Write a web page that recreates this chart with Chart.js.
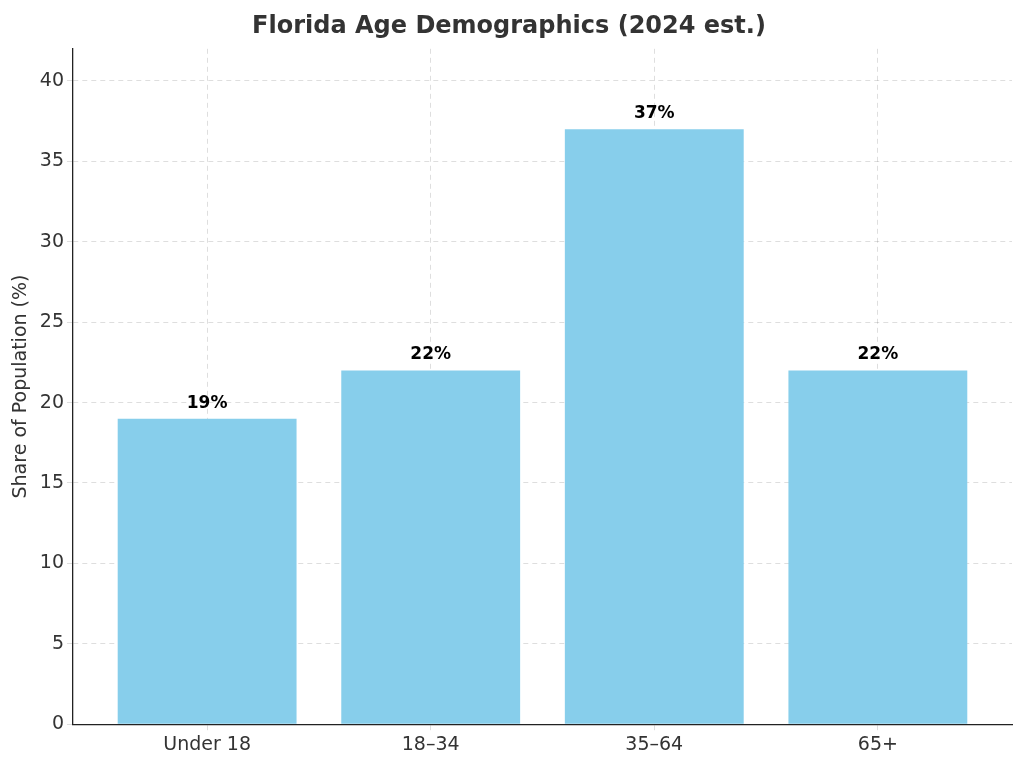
<!DOCTYPE html>
<html>
<head>
<meta charset="utf-8">
<script src="https://cdn.jsdelivr.net/npm/chart.js@4"></script>
<style>
  html, body { margin: 0; padding: 0; background: #fff; }
  #wrap { width: 1024px; height: 765px; }
</style>
</head>
<body>
<div id="wrap"><canvas id="ageChart" width="1024" height="765"></canvas></div>
<script>
// 연령대 데이터
const categories = ['Under 18', '18–34', '35–64', '65+'];
const shares = [19, 22, 37, 22];
const yTicks = [0, 5, 10, 15, 20, 25, 30, 35, 40];

// 막대 위에 퍼센트 표시
const valueLabels = {
	id: 'valueLabels',
	afterDatasetsDraw(chart) {
		const ctx = chart.ctx;
		const meta = chart.getDatasetMeta(0);
		ctx.save();
		ctx.font = 'bold 17px "DejaVu Sans"';
		ctx.fillStyle = '#000';
		ctx.textAlign = 'center';
		ctx.textBaseline = 'bottom';
		meta.data.forEach((bar, i) => {
			ctx.fillText(shares[i] + '%', bar.x, bar.y - 7);
		});
		ctx.restore();
	}
};

const gridStyle = {
	color: 'rgba(0,0,0,0.13)',
	offset: false,
	tickLength: 6
};

new Chart(document.getElementById('ageChart').getContext('2d'), {
	type: 'bar',
	data: {
		datasets: [{
			data: shares.map((v, i) => ({ x: i, y: v })),
			backgroundColor: '#87ceeb',
			barPercentage: 0.8,
			categoryPercentage: 1.0
		}]
	},
	options: {
		responsive: false,
		animation: false,
		layout: { padding: { left: 6, right: 12, top: 4, bottom: 6 } },
		scales: {
			x: {
				type: 'linear',
				offset: false,
				min: -0.6,
				max: 3.6,
				afterBuildTicks: axis => { axis.ticks = categories.map((c, i) => ({ value: i })); },
				ticks: {
					callback: v => categories[v],
					color: '#333',
					font: { family: 'DejaVu Sans', size: 19 }
				},
				grid: gridStyle,
				border: { color: '#222', width: 1.3, dash: [5, 4] }
			},
			y: {
				min: 0,
				max: 42,
				afterBuildTicks: axis => { axis.ticks = yTicks.map(v => ({ value: v })); },
				ticks: {
					color: '#333',
					font: { family: 'DejaVu Sans', size: 19 }
				},
				grid: gridStyle,
				border: { color: '#222', width: 1.3, dash: [5, 4] },
				title: {
					display: true,
					text: 'Share of Population (%)',
					color: '#333',
					font: { family: 'DejaVu Sans', size: 19 }
				}
			}
		},
		plugins: {
			legend: { display: false },
			tooltip: { enabled: false },
			title: {
				display: true,
				text: 'Florida Age Demographics (2024 est.)',
				color: '#333',
				font: { family: 'DejaVu Sans', size: 24, weight: 'bold' },
				padding: { top: 8, bottom: 8 }
			}
		}
	},
	plugins: [valueLabels]
});
</script>
</body>
</html>
